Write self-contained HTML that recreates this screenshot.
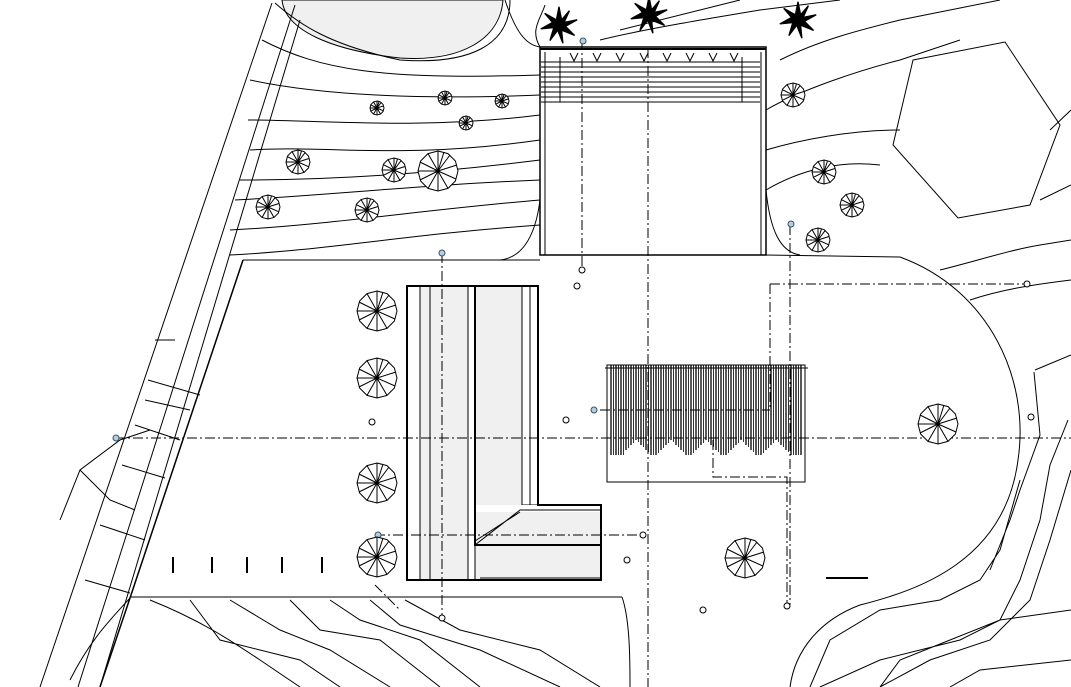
<!DOCTYPE html>
<html><head><meta charset="utf-8"><style>html,body{margin:0;padding:0;background:#fff}svg{display:block}</style></head>
<body>
<svg width="1071" height="687" viewBox="0 0 1071 687" xmlns="http://www.w3.org/2000/svg" fill="none" stroke="#000" stroke-width="1">
<defs>
<g id="t"><polygon points="0,-1 0.5,-0.87 0.87,-0.5 1,0 0.87,0.5 0.5,0.87 0,1 -0.5,0.87 -0.87,0.5 -1,0 -0.87,-0.5 -0.5,-0.87" fill="#fff"/>
<path d="M0,0L0,-1M0,0L0.6,-0.8M0,0L0.95,-0.3M0,0L0.9,0.4M0,0L0.5,0.87M0,0L0,1M0,0L-0.5,0.87M0,0L-0.9,0.45M0,0L-1,0M0,0L-0.9,-0.45M0,0L-0.5,-0.87M0,0L0.3,-0.95"/><circle r="0.08" fill="#000"/></g>
<g id="p" fill="#000" stroke="#000"><path d="M0,-14L2,-4L8,-11L4,-2L14,-4L5,1L12,8L2,4L3,14L-1,4L-7,12L-4,2L-14,3L-5,-2L-11,-9L-2,-4Z"/></g>
</defs>
<!-- pond -->
<path d="M282,0 C285,30 330,50 400,58 C460,62 500,40 503,0 Z" fill="#f0f0f0"/>
<path d="M275,3 C300,25 330,45 400,60 C470,65 510,45 510,0"/>
<!-- road diagonals -->
<path d="M272,3 L40,687 M295,5 L78,687 M300,20 L100,687"/>
<path d="M243,260 L130,598 L100,687" stroke-width="1.5"/>
<!-- plaza edges -->
<path d="M243,260 L540,260 M130,597 L622,597"/>
<path d="M766,255 L900,257 C990,290 1030,380 1018,460 C1005,560 920,590 860,605 C820,620 795,650 790,687"/>
<path d="M622,597 C630,620 630,660 630,687"/>
<path d="M540,200 C535,240 520,258 500,260 M766,190 C770,230 780,252 800,255"/>
<!-- contours top-left -->
<path d="M262,40 C320,70 380,80 540,75 M250,80 C320,95 420,100 540,95 M248,120 C320,120 420,130 540,115 M250,150 C330,145 400,160 540,140 M240,180 C320,180 420,175 540,160 M235,200 C330,195 420,185 540,180 M230,230 C330,225 420,210 540,200 M230,255 C330,250 400,235 540,225"/>
<path d="M505,0 C515,30 525,45 540,47 M545,5 C540,20 530,30 540,47"/>
<!-- contours right -->
<path d="M766,110 C800,90 860,70 900,60 L960,40 M766,150 C800,140 850,130 900,130 M766,190 C800,170 840,160 880,165 M600,40 C640,30 700,20 760,10 L840,0 M620,30 C680,15 720,5 740,0 M780,60 C820,40 860,30 900,20 L1000,0"/>
<polygon points="913,60 1005,42 1060,125 1030,205 958,218 893,145"/>
<path d="M1050,130 L1071,110 M1040,200 L1071,185 M940,270 C980,260 1010,250 1040,245 L1071,240 M970,300 C1000,290 1030,285 1071,280 M1035,370 L1071,355 L1071,355 M1034,372 L1040,435 L1020,490 L1010,520 L990,570 M1068,420 L1050,465 L1040,520 L1020,580 L1000,620 L960,640 L880,660 L820,687 M1020,480 L1000,550 L980,580 L940,600 L880,610 L830,640 L810,687 M1071,470 L1050,540 L1030,600 L990,640 L930,660 L880,687 M1071,610 L1000,620 L950,640 L900,660 L880,687 M1071,660 L980,670 L950,687"/>
<!-- contours bottom-left -->
<path d="M150,600 C200,620 230,640 260,660 L300,687 M190,600 L220,640 L300,660 L340,687 M230,600 L280,630 L330,650 L390,687 M290,600 L320,630 L380,640 L440,687 M330,600 L360,620 L420,640 L480,687 M370,600 L400,625 L480,650 L560,687 M405,600 L460,630 L540,650 L600,687 M70,680 C90,640 110,620 130,598 M60,520 L80,470 L120,440 L150,430 M80,470 L110,500 L135,510"/>
<path d="M148,380 L200,395 M145,400 L190,410 M135,425 L180,440 M122,465 L165,478 M100,525 L145,540 M85,580 L130,593 M155,340 L175,340"/>
<!-- top building -->
<rect x="540" y="47" width="226" height="208" stroke-width="1.5"/>
<path d="M545,52 V255 M761,52 V255"/>
<path d="M540,49 H766" stroke-width="2"/>
<path d="M541,62 H760 M541,67 H760 M541,72 H760 M541,77 H760 M541,82 H760 M541,87 H760 M541,92 H760 M541,97 H760 M541,102 H760" />
<path d="M560,57 V102 M742,57 V102"/>
<path d="M570,53 l4,8 l4,-8 M593,53 l4,8 l4,-8 M616,53 l4,8 l4,-8 M640,53 l4,8 l4,-8 M663,53 l4,8 l4,-8 M686,53 l4,8 l4,-8 M709,53 l4,8 l4,-8 M730,53 l4,8 l4,-8"/>
<!-- L building -->
<polygon points="407,286 538,286 538,505 601,505 601,580 407,580" fill="#f0f0f0" stroke="none"/>
<path d="M407,286 V580 H601 M420,286 V580 M430,286 V580 M468,286 V580 M475,286 V545 M475,545 H601 M480,578 H601" fill="none"/>
<rect x="407" y="286" width="13" height="294" fill="#fff"/>
<rect x="468" y="286" width="7" height="294" fill="#fff"/>
<rect x="522" y="286" width="16" height="219" fill="#fff"/>
<rect x="475" y="505" width="126" height="7" fill="#fff" stroke="none"/>
<path d="M475,545 L520,510 H601 M475,541 L520,512 M522,286 V505 M530,286 V505 M475,286 H538 V505 H601 V580"/>
<path d="M407,286 H538 V505 H601 V580 H407 Z M475,286 V545 H601" stroke-width="2"/>
<!-- pergola -->
<rect x="607" y="365" width="198" height="117" fill="#fff"/>
<path stroke-width="1.3" d="M611,365 V455 M616,365 V455 M621,365 V455 M626,365 V450 M631,365 V445 M636,365 V440 M641,365 V445 M646,365 V450 M651,365 V455 M656,365 V455 M661,365 V450 M666,365 V445 M671,365 V440 M676,365 V445 M681,365 V450 M686,365 V455 M691,365 V455 M696,365 V450 M701,365 V445 M706,365 V440 M711,365 V445 M716,365 V450 M721,365 V455 M726,365 V455 M731,365 V450 M736,365 V445 M741,365 V440 M746,365 V445 M751,365 V450 M756,365 V455 M761,365 V455 M766,365 V450 M771,365 V445 M776,365 V440 M781,365 V445 M786,365 V450 M791,365 V455 M796,365 V455 M801,365 V455"/>
<path stroke-width="0.8" d="M613.5,365 V455 M618.5,365 V455 M623.5,365 V455 M628.5,365 V448 M633.5,365 V443 M638.5,365 V442 M643.5,365 V447 M648.5,365 V452 M653.5,365 V455 M658.5,365 V453 M663.5,365 V448 M668.5,365 V443 M673.5,365 V442 M678.5,365 V447 M683.5,365 V452 M688.5,365 V455 M693.5,365 V453 M698.5,365 V448 M703.5,365 V443 M708.5,365 V442 M713.5,365 V447 M718.5,365 V452 M723.5,365 V455 M728.5,365 V453 M733.5,365 V448 M738.5,365 V443 M743.5,365 V442 M748.5,365 V447 M753.5,365 V452 M758.5,365 V455 M763.5,365 V453 M768.5,365 V448 M773.5,365 V443 M778.5,365 V442 M783.5,365 V447 M788.5,365 V452 M793.5,365 V455 M798.5,365 V455"/>
<path d="M605,368 H808"/>
<!-- axes -->
<g stroke-dasharray="10,3,2,3">
<path d="M115,438 H1071 M648,48 V687 M442,253 V618 M582,40 V270 M790,225 V605 M375,535 H645 M770,284 H1027 M770,284 V410 M600,410 H770 M713,440 V477 H787 V605 M375,585 L400,610"/>
</g>
<!-- markers -->
<g fill="#fff" stroke="#000">
<circle cx="582" cy="270" r="3"/><circle cx="577" cy="286" r="3"/><circle cx="442" cy="618" r="3"/><circle cx="643" cy="535" r="3"/><circle cx="627" cy="560" r="3"/><circle cx="703" cy="610" r="3"/><circle cx="787" cy="606" r="3"/><circle cx="1027" cy="284" r="3"/><circle cx="1031" cy="417" r="3"/><circle cx="566" cy="420" r="3"/><circle cx="372" cy="422" r="3"/>
</g>
<g fill="#bcd" stroke="#356"><circle cx="583" cy="41" r="3"/><circle cx="442" cy="253" r="3"/><circle cx="791" cy="224" r="3"/><circle cx="594" cy="410" r="3"/><circle cx="116" cy="438" r="3"/><circle cx="378" cy="535" r="3"/></g>
<!-- parking ticks -->
<path d="M173,557 V573 M212,557 V573 M247,557 V573 M282,557 V573 M322,557 V573 M826,578 H868" stroke-width="2"/>
<!-- trees -->
<g stroke-width="0.05">
<use href="#t" transform="translate(377,311) scale(20)"/>
<use href="#t" transform="translate(377,378) scale(20)"/>
<use href="#t" transform="translate(377,483) scale(20)"/>
<use href="#t" transform="translate(377,557) scale(20)"/>
<use href="#t" transform="translate(745,558) scale(20)"/>
<use href="#t" transform="translate(938,424) scale(20)"/>
<use href="#t" transform="translate(438,171) scale(20)"/>
</g>
<g stroke-width="0.083">
<use href="#t" transform="translate(394,170) scale(12)"/>
<use href="#t" transform="translate(298,162) scale(12)"/>
<use href="#t" transform="translate(268,207) scale(12)"/>
<use href="#t" transform="translate(367,210) scale(12)"/>
<use href="#t" transform="translate(793,95) scale(12)"/>
<use href="#t" transform="translate(824,172) scale(12)"/>
<use href="#t" transform="translate(852,205) scale(12)"/>
<use href="#t" transform="translate(818,240) scale(12)"/>
</g>
<g stroke-width="0.14">
<use href="#t" transform="translate(377,108) scale(7)"/>
<use href="#t" transform="translate(445,98) scale(7)"/>
<use href="#t" transform="translate(502,101) scale(7)"/>
<use href="#t" transform="translate(466,123) scale(7)"/>
</g>
<use href="#p" transform="translate(559,25) scale(1.3)"/>
<use href="#p" transform="translate(649,15) scale(1.3)"/>
<use href="#p" transform="translate(798,20) scale(1.3)"/>
</svg>
</body></html>
